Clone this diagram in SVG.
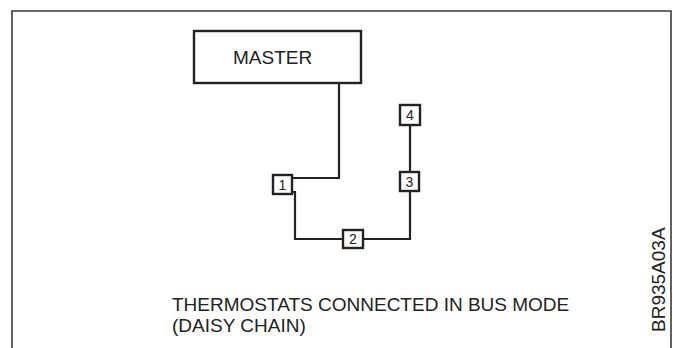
<svg xmlns="http://www.w3.org/2000/svg" width="673" height="348" viewBox="0 0 673 348">
<style>
.frame{fill:none;stroke:#3a3a3a;stroke-width:1.6}
.box{fill:#fff;stroke:#222;stroke-width:2.4}
.wire{fill:none;stroke:#222;stroke-width:2.2}
.t{font-family:"Liberation Sans",Arial,sans-serif;fill:#222}
.big{font-size:19px}
.num{font-size:14px;text-anchor:middle}
</style>
<rect width="673" height="348" fill="#fff"/>
<path class="frame" d="M12,348 V11 H671 V348"/>
<g id="connectors">
<path class="wire" d="M292,178 H339 V83"/>
<path class="wire" d="M292,192 H295 V239 H343"/>
<path class="wire" d="M363,239 H410 V191"/>
<path class="wire" d="M410,172 V125"/>
</g>
<g id="master">
<rect class="box" x="194" y="31" width="167" height="52"/>
<text class="t big" x="233" y="64">MASTER</text>
</g>
<g id="t1">
<rect class="box" x="273" y="175" width="19" height="19"/>
<text class="t num" x="282.5" y="190">1</text>
</g>
<g id="t2">
<rect class="box" x="343" y="230" width="20" height="18"/>
<text class="t num" x="353" y="244">2</text>
</g>
<g id="t3">
<rect class="box" x="400" y="172" width="19" height="19"/>
<text class="t num" x="409.5" y="187">3</text>
</g>
<g id="t4">
<rect class="box" x="400" y="105" width="20" height="20"/>
<text class="t num" x="410" y="120">4</text>
</g>
<g id="caption">
<text class="t big" x="172" y="311">THERMOSTATS CONNECTED IN BUS MODE</text>
<text class="t big" x="172" y="332">(DAISY CHAIN)</text>
</g>
<text class="t big" transform="translate(665,332) rotate(-90)">BR935A03A</text>
</svg>
